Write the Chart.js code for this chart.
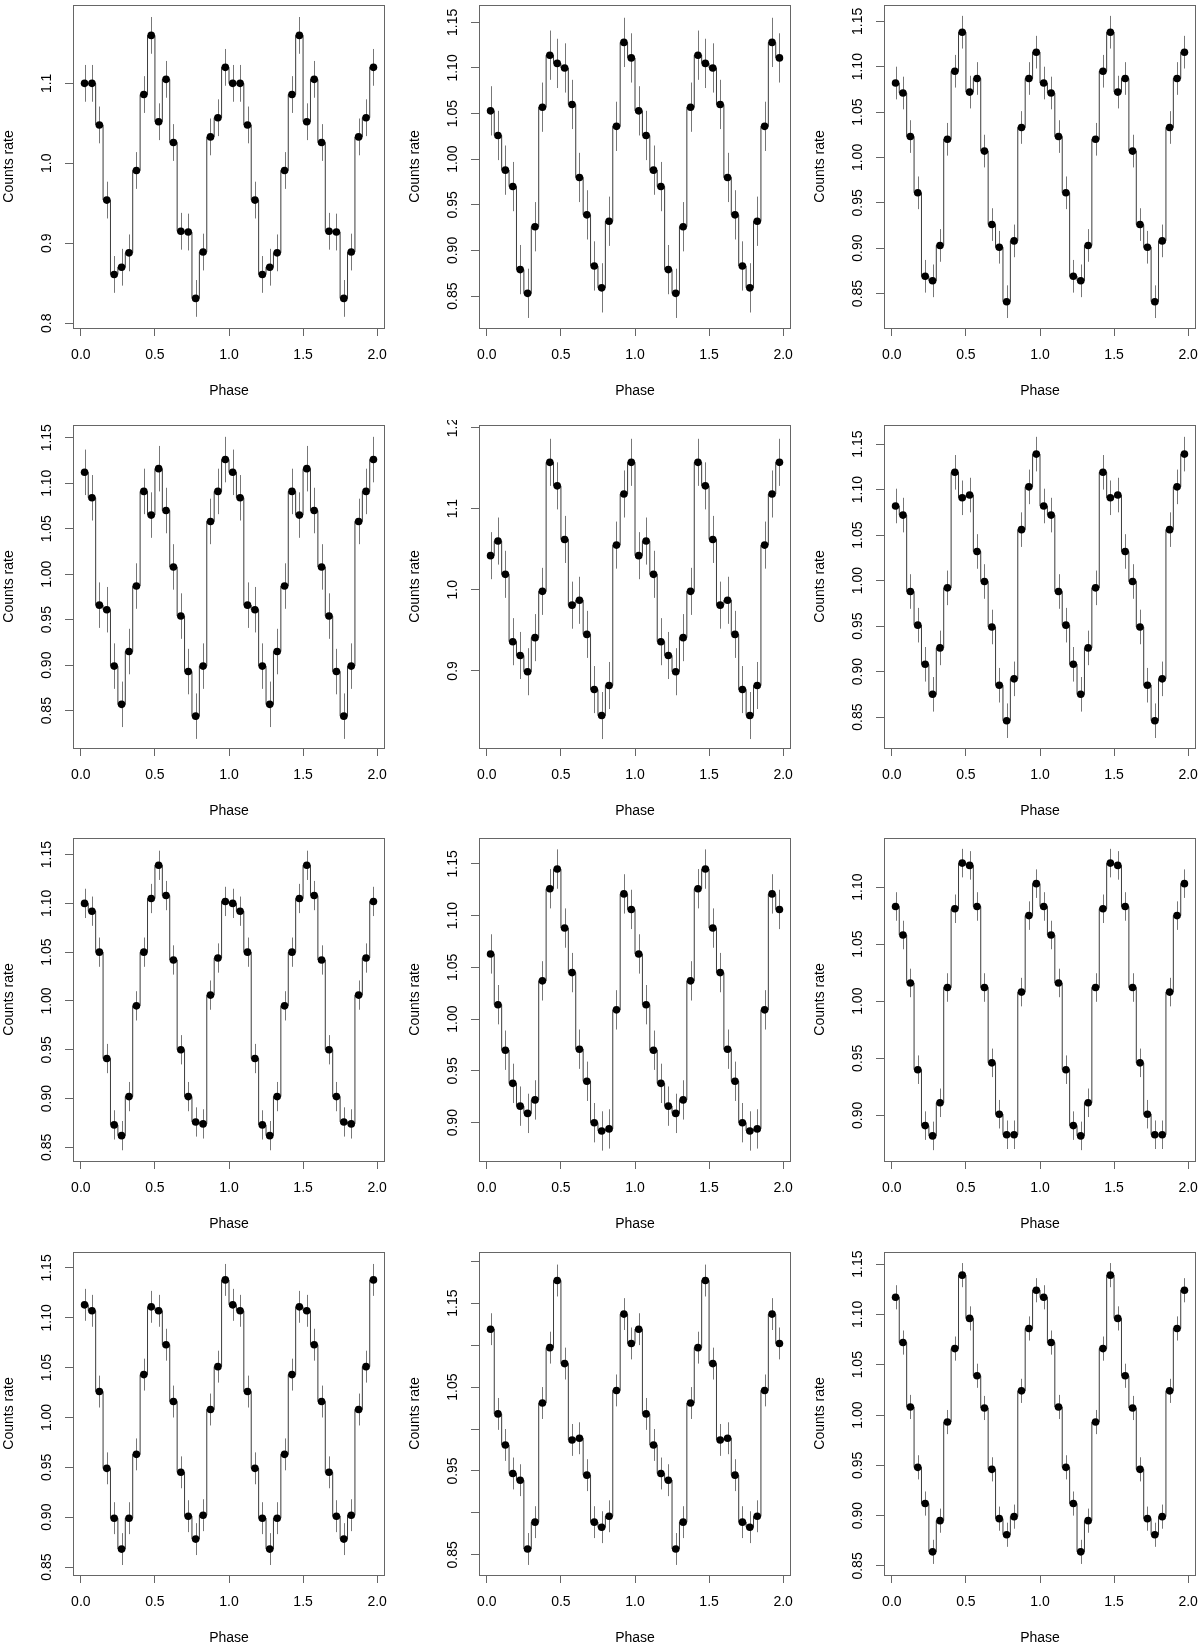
<!DOCTYPE html>
<html>
<head>
<meta charset="utf-8">
<script src="https://cdn.jsdelivr.net/npm/chart.js@4"></script>
<style>
  body { margin: 0; background: #fff; width: 1200px; height: 1648px; overflow: hidden; position: relative; }
  canvas { position: absolute; }
</style>
</head>
<body>
<script>
// phase bins of one cycle; every panel shows the cycle twice (phase and phase + 1)
const phase = [0.025, 0.075, 0.125, 0.175, 0.225, 0.275, 0.325, 0.375, 0.425, 0.475,
               0.525, 0.575, 0.625, 0.675, 0.725, 0.775, 0.825, 0.875, 0.925, 0.975];

const rate1  = [1.100, 1.100, 1.048, 0.954, 0.861, 0.870, 0.888, 0.991, 1.086, 1.160, 1.052, 1.105, 1.026, 0.915, 0.914, 0.831, 0.889, 1.033, 1.057, 1.120];
const rate2  = [1.053, 1.026, 0.988, 0.970, 0.879, 0.853, 0.926, 1.057, 1.114, 1.105, 1.100, 1.060, 0.980, 0.939, 0.883, 0.859, 0.932, 1.036, 1.128, 1.111];
const rate3  = [1.082, 1.071, 1.023, 0.961, 0.869, 0.864, 0.903, 1.020, 1.095, 1.138, 1.072, 1.087, 1.007, 0.926, 0.901, 0.841, 0.908, 1.033, 1.087, 1.116];
const rate4  = [1.112, 1.084, 0.966, 0.961, 0.899, 0.857, 0.915, 0.987, 1.091, 1.065, 1.116, 1.070, 1.008, 0.954, 0.893, 0.844, 0.899, 1.058, 1.091, 1.126];
const rate5  = [1.042, 1.060, 1.019, 0.936, 0.919, 0.899, 0.941, 0.998, 1.157, 1.128, 1.062, 0.981, 0.987, 0.945, 0.877, 0.845, 0.882, 1.055, 1.118, 1.157];
const rate6  = [1.082, 1.072, 0.988, 0.951, 0.908, 0.875, 0.926, 0.992, 1.119, 1.091, 1.094, 1.032, 0.999, 0.949, 0.885, 0.846, 0.892, 1.056, 1.103, 1.139];
const rate7  = [1.100, 1.092, 1.050, 0.941, 0.873, 0.862, 0.902, 0.995, 1.050, 1.105, 1.139, 1.108, 1.042, 0.950, 0.902, 0.876, 0.874, 1.006, 1.044, 1.102];
const rate8  = [1.063, 1.014, 0.970, 0.938, 0.916, 0.909, 0.922, 1.037, 1.126, 1.145, 1.088, 1.045, 0.971, 0.940, 0.900, 0.892, 0.894, 1.009, 1.121, 1.106];
const rate9  = [1.083, 1.058, 1.016, 0.940, 0.891, 0.882, 0.911, 1.012, 1.081, 1.121, 1.119, 1.083, 1.012, 0.946, 0.901, 0.883, 0.883, 1.008, 1.075, 1.103];
const rate10 = [1.113, 1.107, 1.026, 0.949, 0.899, 0.868, 0.899, 0.963, 1.043, 1.111, 1.107, 1.073, 1.016, 0.945, 0.901, 0.878, 0.902, 1.008, 1.051, 1.138];
const rate11 = [1.119, 1.018, 0.981, 0.947, 0.939, 0.857, 0.889, 1.031, 1.097, 1.177, 1.078, 0.987, 0.989, 0.945, 0.889, 0.883, 0.896, 1.046, 1.137, 1.102];
const rate12 = [1.117, 1.072, 1.008, 0.948, 0.912, 0.864, 0.895, 0.993, 1.066, 1.139, 1.096, 1.039, 1.007, 0.946, 0.897, 0.881, 0.899, 1.024, 1.086, 1.124];

// error bar half-length per panel
const errs = [0.023, 0.027, 0.018, 0.025, 0.029, 0.019, 0.015, 0.019, 0.0125, 0.016, 0.019, 0.012];

// y limits per panel
const yMin = [0.794, 0.815, 0.812, 0.809, 0.805, 0.816, 0.836, 0.863, 0.860, 0.842, 0.826, 0.841];
const yMax = [1.198, 1.169, 1.168, 1.164, 1.203, 1.171, 1.167, 1.175, 1.143, 1.166, 1.211, 1.162];

// tick sets
const xTicks = [0, 0.5, 1, 1.5, 2];
const xLabels = ['0.0', '0.5', '1.0', '1.5', '2.0'];
const ticksA = [0.8, 0.9, 1.0, 1.1];
const labelsA = ['0.8', '0.9', '1.0', '1.1'];
const ticksB = [0.85, 0.90, 0.95, 1.00, 1.05, 1.10, 1.15];
const labelsB = ['0.85', '0.90', '0.95', '1.00', '1.05', '1.10', '1.15'];
const ticksC = [0.9, 1.0, 1.1, 1.2];
const labelsC = ['0.9', '1.0', '1.1', '1.2'];
const ticksD = [0.90, 0.95, 1.00, 1.05, 1.10, 1.15];
const labelsD = ['0.90', '0.95', '1.00', '1.05', '1.10', '1.15'];
const ticksE = [0.90, 0.95, 1.00, 1.05, 1.10];
const labelsE = ['0.90', '0.95', '1.00', '1.05', '1.10'];
const ticksF = [0.85, 0.90, 0.95, 1.00, 1.05, 1.10, 1.15, 1.20];
const labelsF = ['0.85', '', '0.95', '', '1.05', '', '1.15', ''];

const rates = [rate1, rate2, rate3, rate4, rate5, rate6, rate7, rate8, rate9, rate10, rate11, rate12];
const yTickSets = [ticksA, ticksB, ticksB, ticksB, ticksC, ticksB, ticksB, ticksD, ticksE, ticksB, ticksF, ticksB];
const yLabelSets = [labelsA, labelsB, labelsB, labelsB, labelsC, labelsB, labelsB, labelsD, labelsE, labelsB, labelsF, labelsB];

// page layout
const colLeft = [0, 406, 811];
const rowTop = [0, 420, 833, 1247];

Chart.defaults.font.family = '"Liberation Sans", Arial, sans-serif';
Chart.defaults.font.size = 14;
Chart.defaults.color = '#000';

// box, error bars and rotated y labels, R style
const rPlot = {
  id: 'rPlot',
  beforeDatasetsDraw(chart, args, opts) {
    const { ctx, scales: { x, y } } = chart;
    ctx.save();
    ctx.strokeStyle = '#777';
    ctx.lineWidth = 1;
    ctx.beginPath();
    chart.data.datasets[0].data.forEach(p => {
      const px = Math.round(x.getPixelForValue(p.x)) + 0.5;
      ctx.moveTo(px, y.getPixelForValue(p.y - opts.err));
      ctx.lineTo(px, y.getPixelForValue(p.y + opts.err));
    });
    ctx.stroke();
    ctx.restore();
  },
  afterDraw(chart, args, opts) {
    const { ctx, chartArea: a, scales: { y } } = chart;
    ctx.save();
    ctx.strokeStyle = '#666';
    ctx.lineWidth = 1;
    ctx.strokeRect(Math.round(a.left) + 0.5, Math.round(a.top) + 0.5,
                   Math.round(a.right - a.left) - 1, Math.round(a.bottom - a.top));
    ctx.fillStyle = '#000';
    ctx.font = '14px "Liberation Sans", Arial, sans-serif';
    ctx.textAlign = 'center';
    ctx.textBaseline = 'middle';
    y.ticks.forEach((t, k) => {
      const lab = opts.labels[k];
      if (!lab) return;
      ctx.save();
      ctx.translate(a.left - 26, y.getPixelForValue(t.value));
      ctx.rotate(-Math.PI / 2);
      ctx.fillText(lab, 0, 0);
      ctx.restore();
    });
    ctx.restore();
  }
};

rates.forEach((r, i) => {
  const cv = document.createElement('canvas');
  cv.width = 389;
  cv.height = 400;
  cv.style.left = colLeft[i % 3] + 'px';
  cv.style.top = rowTop[Math.floor(i / 3)] + 'px';
  document.body.appendChild(cv);

  const pts = phase.map((p, k) => ({ x: p, y: r[k] }))
    .concat(phase.map((p, k) => ({ x: p + 1, y: r[k] })));
  const yTicks = yTickSets[i];

  new Chart(cv, {
    type: 'line',
    data: {
      datasets: [{
        data: pts,
        stepped: 'middle',
        borderColor: '#3c3c3c',
        borderWidth: 1,
        pointRadius: 3.8,
        pointBackgroundColor: '#000',
        pointBorderWidth: 0,
        clip: false
      }]
    },
    options: {
      responsive: false,
      animation: false,
      devicePixelRatio: 1,
      layout: { padding: { top: 5, right: 4, left: 0, bottom: 0 } },
      plugins: {
        legend: { display: false },
        tooltip: { enabled: false },
        rPlot: { err: errs[i], labels: yLabelSets[i] }
      },
      scales: {
        x: {
          type: 'linear',
          min: -0.053,
          max: 2.053,
          afterBuildTicks: s => { s.ticks = xTicks.map(v => ({ value: v })); },
          afterFit: s => { s.height = 72; s.paddingLeft = 0; s.paddingRight = 0; },
          grid: { drawOnChartArea: false, drawTicks: true, tickLength: 8, color: '#666' },
          border: { display: false },
          ticks: { padding: 11, autoSkip: false, maxRotation: 0, callback: (v, k) => xLabels[k] },
          title: { display: true, text: 'Phase', padding: { top: 0, bottom: 0 } }
        },
        y: {
          type: 'linear',
          min: yMin[i],
          max: yMax[i],
          afterBuildTicks: s => { s.ticks = yTicks.map(v => ({ value: v })); },
          afterFit: s => { s.width = 73; s.paddingTop = 0; s.paddingBottom = 0; },
          grid: { drawOnChartArea: false, drawTicks: true, tickLength: 8, color: '#666' },
          border: { display: false },
          ticks: { display: false },
          title: { display: true, text: 'Counts rate', padding: { top: 1, bottom: 0 } }
        }
      }
    },
    plugins: [rPlot]
  });
});
</script>
</body>
</html>
